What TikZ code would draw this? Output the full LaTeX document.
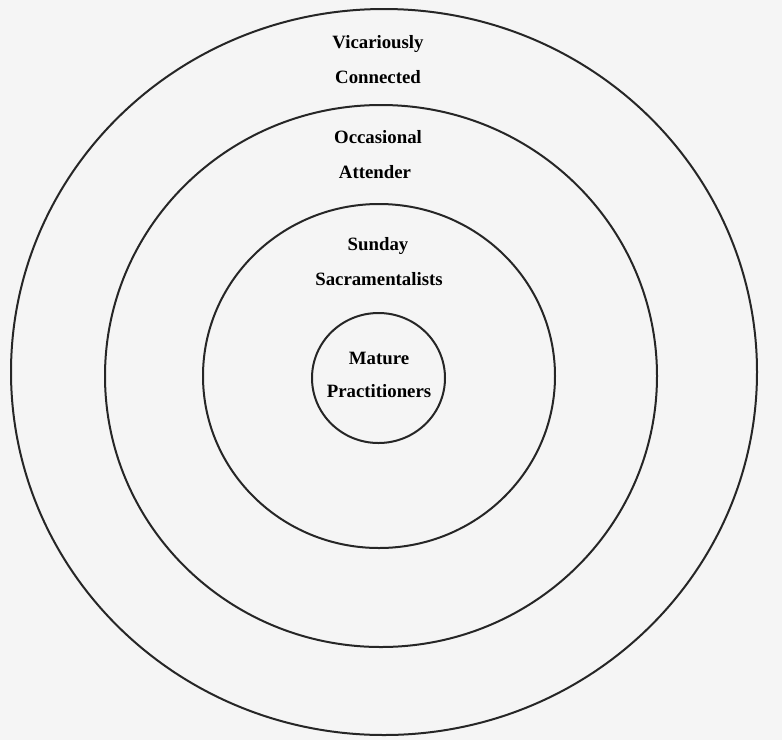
\documentclass[tikz,border=0pt]{standalone}
\usepackage{fontspec}
\setmainfont{Liberation Serif}
\tikzset{ring/.style={line width=2pt, black!85},
  lbl/.style={font=\fontsize{18.8}{20}\selectfont\bfseries, anchor=base, inner sep=0pt}}

\begin{document}
\begin{tikzpicture}[x=1pt,y=-1pt]
    \fill[black!4] (0,0) rectangle (782,740);
    \useasboundingbox (0,0) rectangle (782,740);
    \draw[ring] (384,372) ellipse (373 and 363);
    \draw[ring] (381,376) ellipse (276 and 271);
    \draw[ring] (379,376) ellipse (176 and 172);
    \draw[ring] (378.5,378) ellipse (66.5 and 65);
    \node[lbl] (vic) at (378,48) {Vicariously};
    \node[lbl] (con) at (378,83) {Connected};
    \node[lbl] (occ) at (378,143) {Occasional};
    \node[lbl] (att) at (375,178) {Attender};
    \node[lbl] (sun) at (378,250) {Sunday};
    \node[lbl] (sac) at (379,285) {Sacramentalists};
    \node[lbl] (mat) at (379,364) {Mature};
    \node[lbl] (pra) at (379,397) {Practitioners};
  \end{tikzpicture}
\end{document}
